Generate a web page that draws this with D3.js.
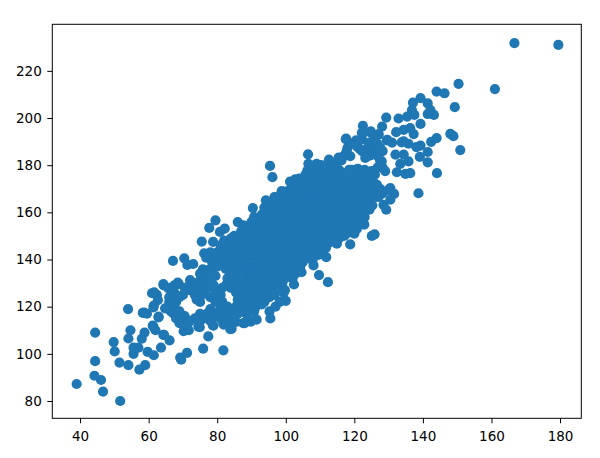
<!DOCTYPE html>
<html><head><meta charset="utf-8">
<script src="https://cdn.jsdelivr.net/npm/d3@7"></script>
<style>html,body{margin:0;background:#fff}svg{display:block}
text{font-family:"DejaVu Sans",sans-serif}</style></head><body>
<svg id="c" width="600" height="458"></svg>
<script>
(function(){
const xTicks=[40,60,80,100,120,140,160,180];
const yTicks=[80,100,120,140,160,180,200,220];
const lowEnd=[[39,87.2],[44.4,109],[44.4,96.9],[44.2,90.7],[46.1,88.9],[46.7,84],[51.7,80],[49.8,105],[50.1,101],[51.5,96.3],[54,119],[54.7,110],[54.1,106.5],[54.1,95.2],[55.6,102.6],[55.6,100],[57.3,93.3],[59,95.2],[58,106.4],[58.8,109],[57,102.6],[59.7,100.8],[61.5,99.4],[63.6,102.6],[62,110],[61.2,112],[64.5,108],[66.1,105.7],[58.3,117.4],[59.5,117],[62.9,115.5],[61,125.7],[62.4,125],[61.5,120.5],[64.4,129],[65.9,128],[68.8,129.6],[72.2,130.7],[69.2,98.4],[69.5,97.5],[71.2,100.4],[75.9,102.2],[77.4,107.4],[81.8,101.5],[78.9,112],[81.9,112.4],[84.2,110.6],[70.2,109.6],[71.7,110],[74.9,111.3],[67.1,139.4],[70.4,140.5],[71.3,137.7],[73,138.1],[75.8,135.8],[72.1,131.3],[68.5,130.2],[64.3,129.6],[65.8,127.8],[61.6,126.1],[62.7,122.8],[61.4,119.7],[58.7,117.5],[62.9,115.8],[61.4,111.5],[64.3,108],[66.5,121.4],[64.8,119.3],[67.2,117.2],[69.7,115],[74.5,111.5],[78.7,112.2],[81.8,112.9],[84,113.6],[83.8,110.5],[87.6,113],[89.8,113.6],[91,119.3]];
const upperEdge=[[106.5,184.6],[95.4,179.7],[96.1,174.9],[103.9,174.3],[98.8,169],[96.7,166.5],[94.2,165.1],[90.4,161.8],[79.5,156.6],[77.7,153.4],[86,155.9],[82.2,153.1],[80.8,151.7],[75.5,147.6],[78.8,147.5],[76.2,142.6],[76.8,140.8],[87.6,154.5],[109,180.6],[106.6,180.6],[106.3,177.8],[112.6,182.4],[115.4,183.2],[117.5,191],[122.2,193.7]];
const lowerEdge=[[111.8,141],[107.8,139.6],[108.1,137.5],[109.7,133.4],[112.3,130.4],[102.4,129.4],[99.4,125.9],[104.6,134.6],[118.8,146.4],[114.9,146.7],[122.9,154.8],[125.1,150],[125.9,150.7],[126.6,166.6],[88,113],[85.5,113.5],[91.5,114.5],[95.5,115],[93,121],[97,120],[100,122.5]];
const highEnd=[[166.7,231.8],[179.5,231],[161,212.3],[150.4,214.5],[144,211.2],[146.3,210.5],[149.3,204.6],[139.3,208.4],[137.1,206.5],[141.4,206.2],[142.2,203.4],[143.2,201.3],[141.4,201.7],[136.8,203.4],[137.5,201.3],[135.4,200.6],[132.9,199.8],[129.3,200.2],[122.5,196.7],[128.1,196.4],[139.3,197.5],[136.3,195.7],[134.4,195],[132.2,194],[137.3,193.2],[148,193.3],[148.9,192.3],[144,191.5],[142.4,189.9],[150.9,186.4],[127.1,193.2],[124.8,194.3],[122.5,193.6],[117.6,191.3],[120.5,190.5],[129.5,190.5],[131,189.6],[134.4,190.1],[135.8,189.1],[139.3,188.3],[138.1,187.7],[141.4,185.6],[139.1,183.5],[141.4,181.2],[144.1,176.6],[138.7,168.1],[136.3,176.6],[134.9,176.3],[132.4,177],[135.8,181.6],[133.4,180.6],[134.4,184.5],[132,184.5],[131.6,167.8],[130.5,165.4],[128.5,163.2],[129.3,161.1],[127.1,166.7],[130.5,170.3],[124.4,161.1],[122.7,155.2],[118,187.3],[118.8,183.8],[124.1,189.4],[127.6,187.3],[123.2,183.1],[128,181.6],[126.6,171.7],[125,177.5],[129,177.5],[121,178.5],[119.7,189.3],[125,193.5],[127,192.8],[129.6,190.7],[133.8,189.7],[130,169.5]];
const lowerBody=[[66,122],[66.5,118],[67.5,126],[67.5,120],[68,115],[69,124],[69,113],[70.5,128],[70.5,116],[72,127],[72,114],[73.5,130],[73.5,125],[73.5,115],[75,134],[75,128],[75,122],[75,117],[75,114],[76.5,131],[76.5,126],[76.5,115],[78,143],[78,136],[78,130],[78,124],[78,119],[78,114],[79.5,140],[79.5,133],[79.5,127],[79.5,122],[79.5,116],[81,146],[81,138],[81,125],[81,119],[81,115],[82.5,143],[82.5,136],[82.5,129],[82.5,117],[84,149],[84,141],[84,135],[84,128],[84,116],[85.5,146],[85.5,139],[85.5,132],[85.5,126],[85.5,120],[87,151],[87,144],[87,137],[87,130],[87,124],[87,118],[88.5,148],[88.5,141],[88.5,134],[88.5,128],[88.5,122],[88.5,117]];
const lowerFill=[[66,124],[67.5,129],[68,122],[69,118],[70,125],[71.5,113],[73,128],[74,123],[74.5,113],[75,131],[75.5,125],[77,117],[77.2,128],[77.5,134],[78.5,139],[79,129],[79,117],[80,137],[80,143],[80.5,124],[80.5,118],[81.5,128],[81.5,122],[82,148],[82,141],[83,120],[83,132],[83,139],[83,146],[83.5,114],[84.5,119],[84.5,131],[84.5,137],[84.5,144],[85,150],[86,117],[86,123],[86,129],[86,135],[86,141],[86,148],[87,152],[87.7,120],[87.7,126],[87.7,132],[87.7,139],[87.7,146],[89,115],[89,119],[89,125],[89,131],[89,137],[89,144],[89,151],[89,154]];
const centerBody=[[90,156],[90,151],[90,146],[90,141],[90,136],[90,131],[90,126],[90,120],[91.5,155],[91.5,149],[91.5,144],[91.5,139],[91.5,134],[91.5,129],[91.5,124],[93,159],[93,154],[93,149],[93,144],[93,139],[93,134],[93,129],[93,125],[94.5,160],[94.5,156],[94.5,151],[94.5,146],[94.5,141],[94.5,136],[94.5,131],[94.5,126],[96,162],[96,157],[96,152],[96,147],[96,142],[96,137],[96,132],[96,127],[97.5,163],[97.5,159],[97.5,154],[97.5,149],[97.5,144],[97.5,139],[97.5,134],[97.5,129],[99,165],[99,160],[99,155],[99,150],[99,145],[99,140],[99,135],[99,130],[100.5,169],[100.5,164],[100.5,159],[100.5,154],[100.5,149],[100.5,144],[100.5,139],[100.5,134],[102,171],[102,166],[102,161],[102,156],[102,151],[102,146],[102,141],[102,136],[102,132],[103.5,170],[103.5,165],[103.5,160],[103.5,155],[103.5,150],[103.5,145],[103.5,140],[105,174],[105,169],[105,164],[105,159],[105,154],[105,149],[105,144],[105,139],[106.5,172],[106.5,167],[106.5,162],[106.5,157],[106.5,152],[106.5,147],[106.5,142],[108,176],[108,171],[108,166],[108,161],[108,156],[108,151],[108,146],[108,142],[109.5,177],[109.5,172],[109.5,167],[109.5,162],[109.5,157],[109.5,152],[109.5,147],[109.5,142]];
const centerFill=[[90.75,158],[90.75,153.5],[90.75,148.5],[90.75,143.5],[90.75,138.5],[90.75,133.5],[90.75,128.5],[90.75,123.5],[90.75,118],[92.25,157],[92.25,152],[92.25,147],[92.25,142],[92.25,137],[92.25,132],[92.25,127],[92.25,122],[93.75,162],[93.75,157],[93.75,152],[93.75,147],[93.75,142],[93.75,137],[93.75,132],[93.75,127],[93.75,122],[95.25,164],[95.25,159],[95.25,154],[95.25,149],[95.25,144],[95.25,139],[95.25,134],[95.25,129],[95.25,124],[95.25,118],[96.75,165],[96.75,160],[96.75,155],[96.75,150],[96.75,145],[96.75,140],[96.75,135],[96.75,130],[96.75,125],[98.25,167],[98.25,162],[98.25,157],[98.25,152],[98.25,147],[98.25,142],[98.25,137],[98.25,132],[98.25,127],[98.25,122],[99.75,167],[99.75,162],[99.75,157],[99.75,152],[99.75,147],[99.75,142],[99.75,137],[99.75,132],[99.75,127],[101.25,173],[101.25,168],[101.25,163],[101.25,158],[101.25,153],[101.25,148],[101.25,143],[101.25,138],[101.25,133],[102.75,174],[102.75,168],[102.75,163],[102.75,158],[102.75,153],[102.75,148],[102.75,143],[102.75,138],[102.75,134],[104.25,172],[104.25,167],[104.25,162],[104.25,157],[104.25,152],[104.25,147],[104.25,142],[104.25,137],[105.75,176],[105.75,171],[105.75,166],[105.75,161],[105.75,156],[105.75,151],[105.75,146],[105.75,141],[107.25,178],[107.25,174],[107.25,169],[107.25,164],[107.25,159],[107.25,154],[107.25,149],[107.25,144],[108.75,178],[108.75,174],[108.75,169],[108.75,164],[108.75,159],[108.75,154],[108.75,149],[108.75,144]];
const upperBody=[[111,178],[111,173],[111,168],[111,163],[111,158],[111,153],[111,148],[111,144],[112.5,177],[112.5,172],[112.5,167],[112.5,162],[112.5,157],[112.5,152],[112.5,147],[114,179],[114,174],[114,169],[114,164],[114,159],[114,154],[114,149],[115.5,178],[115.5,173],[115.5,168],[115.5,163],[115.5,158],[115.5,153],[115.5,149],[117,184],[117,175],[117,170],[117,165],[117,160],[117,155],[117,150],[118.5,178],[118.5,173],[118.5,168],[118.5,163],[118.5,158],[118.5,153],[120,176],[120,171],[120,166],[120,161],[120,156],[120,151],[121.5,187],[121.5,174],[121.5,169],[121.5,164],[121.5,159],[121.5,155],[123,178],[123,173],[123,168],[123,163],[123,158],[124.5,184],[124.5,175],[124.5,170],[124.5,165],[126,186],[126,176],[126,172],[127.5,170],[127.5,182]];
const upperFill=[[110.25,180],[110.25,175],[110.25,170],[110.25,165],[110.25,160],[110.25,155],[110.25,150],[110.25,145],[111.75,180],[111.75,175],[111.75,170],[111.75,165],[111.75,160],[111.75,155],[111.75,150],[111.75,145],[113.25,181],[113.25,176],[113.25,171],[113.25,166],[113.25,161],[113.25,156],[113.25,151],[114.75,181],[114.75,176],[114.75,171],[114.75,166],[114.75,161],[114.75,156],[114.75,151],[116.25,182],[116.25,177],[116.25,172],[116.25,167],[116.25,162],[116.25,157],[116.25,152],[117.75,186],[117.75,176],[117.75,171],[117.75,166],[117.75,161],[117.75,156],[117.75,151],[119.25,178],[119.25,173],[119.25,168],[119.25,163],[119.25,158],[119.25,153],[120.75,188],[120.75,178],[120.75,173],[120.75,168],[120.75,163],[120.75,158],[120.75,153],[122.25,191],[122.25,186],[122.25,176],[122.25,171],[122.25,166],[122.25,161],[122.25,157],[123.75,187],[123.75,177],[123.75,172],[123.75,167],[123.75,162],[125.25,190],[125.25,186],[125.25,174],[125.25,168],[125.25,163],[126.75,189],[126.75,184],[126.75,179],[126.75,168],[128.25,186],[128.25,179],[128.25,168]];

const mLeft=52.3,mRight=581.3,mTop=24.3,mBottom=418.3;
const x=d3.scaleLinear().domain([31.9,186.2]).range([mLeft,mRight]);
const y=d3.scaleLinear().domain([72.66,239.75]).range([mBottom,mTop]);
const svg=d3.select("#c");
const all=[...lowEnd,...lowerBody,...lowerFill,...centerBody,...centerFill,...upperBody,...upperFill,...upperEdge,...lowerEdge,...highEnd];
svg.append("g").selectAll("circle").data(all).join("circle")
  .attr("cx",d=>x(d[0])).attr("cy",d=>y(d[1])).attr("r",5.1).attr("fill","#1f77b4");
svg.append("rect").attr("x",mLeft).attr("y",mTop).attr("width",mRight-mLeft).attr("height",mBottom-mTop)
  .attr("fill","none").attr("stroke","#000").attr("stroke-width",1);
const ax=svg.append("g").attr("transform",`translate(0,${mBottom})`).call(d3.axisBottom(x).tickValues(xTicks).tickSize(5).tickPadding(8));
const ay=svg.append("g").attr("transform",`translate(${mLeft},0)`).call(d3.axisLeft(y).tickValues(yTicks).tickSize(5).tickPadding(5.5));
[ax,ay].forEach(g=>{g.select(".domain").remove();g.selectAll("text").attr("font-size",13.5).attr("fill","#000").attr("font-family","DejaVu Sans");g.selectAll("line").attr("stroke","#000");});
})();
</script></body></html>
